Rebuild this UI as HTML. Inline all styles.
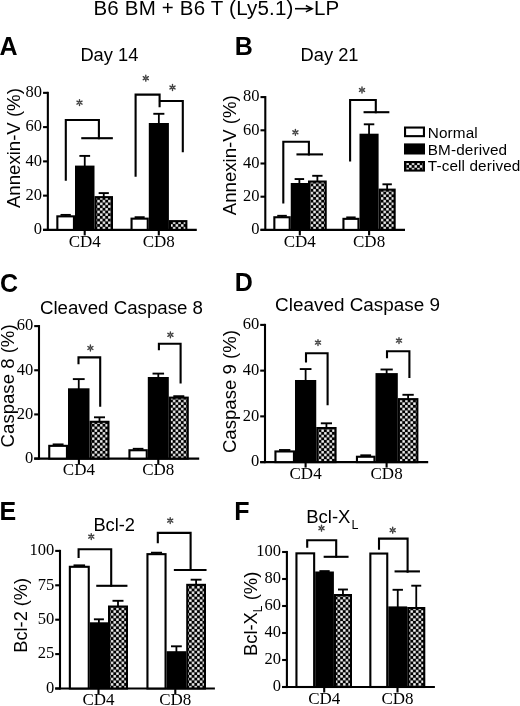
<!DOCTYPE html>
<html><head><meta charset="utf-8"><style>
html,body{margin:0;padding:0;background:#fff;overflow:hidden;}
svg{display:block;filter:grayscale(1) blur(0.25px);}
</style></head><body>
<svg width="520" height="706" viewBox="0 0 520 706">
<defs>
<pattern id="chk" x="0" y="0" width="5.4" height="5.4" patternUnits="userSpaceOnUse">
<rect x="0" y="0" width="5.4" height="5.4" fill="#000"/>
<rect x="0.15" y="0.15" width="2.4" height="2.4" fill="#fff"/>
<rect x="2.85" y="2.85" width="2.4" height="2.4" fill="#fff"/>
</pattern>
<pattern id="chk2" x="406.3" y="162.4" width="5.4" height="5.4" patternUnits="userSpaceOnUse">
<rect x="0" y="0" width="5.4" height="5.4" fill="#000"/>
<rect x="0.15" y="0.15" width="2.4" height="2.4" fill="#fff"/>
<rect x="2.85" y="2.85" width="2.4" height="2.4" fill="#fff"/>
</pattern>
</defs>
<rect width="520" height="706" fill="#fff"/>
<text x="93.40" y="15.00" font-family='"Liberation Sans", sans-serif' font-size="20.5" letter-spacing="0.2">B6 BM + B6 T (Ly5.1)</text>
<line x1="295.00" y1="8.70" x2="311.60" y2="8.70" stroke="#000" stroke-width="1.6"/>
<polyline points="306.60,5.90 312.20,8.70 306.60,11.50" fill="none" stroke="#000" stroke-width="1.6" stroke-linejoin="miter" stroke-linecap="square"/>
<text x="314.10" y="15.00" font-family='"Liberation Sans", sans-serif' font-size="20.5">LP</text>
<text x="-0.60" y="55.40" font-family='"Liberation Sans", sans-serif' font-size="25" font-weight="bold">A</text>
<text x="234.80" y="55.00" font-family='"Liberation Sans", sans-serif' font-size="25" font-weight="bold">B</text>
<text x="0.00" y="291.80" font-family='"Liberation Sans", sans-serif' font-size="25" font-weight="bold">C</text>
<text x="234.80" y="291.30" font-family='"Liberation Sans", sans-serif' font-size="25" font-weight="bold">D</text>
<text x="-0.60" y="520.00" font-family='"Liberation Sans", sans-serif' font-size="25" font-weight="bold">E</text>
<text x="234.30" y="519.50" font-family='"Liberation Sans", sans-serif' font-size="25" font-weight="bold">F</text>
<text x="80.40" y="61.00" font-family='"Liberation Sans", sans-serif' font-size="18.3">Day 14</text>
<text x="300.60" y="60.80" font-family='"Liberation Sans", sans-serif' font-size="18.3">Day 21</text>
<text x="39.90" y="313.80" font-family='"Liberation Sans", sans-serif' font-size="18.7">Cleaved Caspase 8</text>
<text x="275.10" y="310.80" font-family='"Liberation Sans", sans-serif' font-size="18.9">Cleaved Caspase 9</text>
<text x="93.40" y="531.00" font-family='"Liberation Sans", sans-serif' font-size="18.3">Bcl-2</text>
<text x="306.2" y="523.3" font-family='"Liberation Sans", sans-serif' font-size="18.5">Bcl-X<tspan font-size="12.5" dx="1.2" dy="5.2">L</tspan></text>
<text x="0" y="0" transform="translate(19.8,148.1) rotate(-90)" font-family='"Liberation Sans", sans-serif' font-size="18.6" text-anchor="middle">Annexin-V (%)</text>
<text x="0" y="0" transform="translate(236,155.2) rotate(-90)" font-family='"Liberation Sans", sans-serif' font-size="18.6" text-anchor="middle">Annexin-V (%)</text>
<text x="0" y="0" transform="translate(14.2,385.9) rotate(-90)" font-family='"Liberation Sans", sans-serif' font-size="18.6" text-anchor="middle">Caspase 8 (%)</text>
<text x="0" y="0" transform="translate(236.2,391.6) rotate(-90)" font-family='"Liberation Sans", sans-serif' font-size="18.6" text-anchor="middle">Caspase 9 (%)</text>
<text x="0" y="0" transform="translate(27.0,615.3) rotate(-90)" font-family='"Liberation Sans", sans-serif' font-size="18.2" text-anchor="middle">Bcl-2 (%)</text>
<text x="0" y="0" transform="translate(257.3,613.9) rotate(-90)" font-family='"Liberation Sans", sans-serif' font-size="18.4" text-anchor="middle">Bcl-X<tspan font-size="12" dy="4.5">L</tspan><tspan dy="-4.5"> (%)</tspan></text>
<line x1="47.85" y1="91.80" x2="47.85" y2="230.95" stroke="#000" stroke-width="2.1"/>
<line x1="43.05" y1="229.90" x2="47.85" y2="229.90" stroke="#000" stroke-width="2.1"/>
<text x="42.05" y="234.20" font-family='"Liberation Serif", serif' font-size="16.5" text-anchor="end">0</text>
<line x1="43.05" y1="195.64" x2="47.85" y2="195.64" stroke="#000" stroke-width="2.1"/>
<text x="42.05" y="199.94" font-family='"Liberation Serif", serif' font-size="16.5" text-anchor="end">20</text>
<line x1="43.05" y1="161.38" x2="47.85" y2="161.38" stroke="#000" stroke-width="2.1"/>
<text x="42.05" y="165.68" font-family='"Liberation Serif", serif' font-size="16.5" text-anchor="end">40</text>
<line x1="43.05" y1="127.11" x2="47.85" y2="127.11" stroke="#000" stroke-width="2.1"/>
<text x="42.05" y="131.41" font-family='"Liberation Serif", serif' font-size="16.5" text-anchor="end">60</text>
<line x1="43.05" y1="92.85" x2="47.85" y2="92.85" stroke="#000" stroke-width="2.1"/>
<text x="42.05" y="97.15" font-family='"Liberation Serif", serif' font-size="16.5" text-anchor="end">80</text>
<line x1="43.05" y1="229.90" x2="196.80" y2="229.90" stroke="#000" stroke-width="2.1"/>
<rect x="57.35" y="216.35" width="16.60" height="13.55" fill="#fff" stroke="#000" stroke-width="2.1"/>
<rect x="76.05" y="166.65" width="17.40" height="63.25" fill="#000" stroke="#000" stroke-width="2.1"/>
<rect x="95.55" y="197.15" width="16.40" height="32.75" fill="url(#chk)" stroke="#000" stroke-width="2.1"/>
<line x1="65.65" y1="216.30" x2="65.65" y2="214.90" stroke="#000" stroke-width="1.8"/>
<line x1="60.51" y1="214.90" x2="70.79" y2="214.90" stroke="#000" stroke-width="1.9"/>
<line x1="84.75" y1="166.60" x2="84.75" y2="155.90" stroke="#000" stroke-width="1.8"/>
<line x1="79.39" y1="155.90" x2="90.11" y2="155.90" stroke="#000" stroke-width="1.9"/>
<line x1="103.75" y1="197.10" x2="103.75" y2="193.10" stroke="#000" stroke-width="1.8"/>
<line x1="98.66" y1="193.10" x2="108.84" y2="193.10" stroke="#000" stroke-width="1.9"/>
<line x1="84.70" y1="229.90" x2="84.70" y2="235.40" stroke="#000" stroke-width="2.1"/>
<text x="84.70" y="246.70" font-family='"Liberation Serif", serif' font-size="17" text-anchor="middle">CD4</text>
<rect x="131.55" y="218.65" width="16.20" height="11.25" fill="#fff" stroke="#000" stroke-width="2.1"/>
<rect x="149.85" y="124.05" width="18.00" height="105.85" fill="#000" stroke="#000" stroke-width="2.1"/>
<rect x="169.95" y="221.15" width="16.40" height="8.75" fill="url(#chk)" stroke="#000" stroke-width="2.1"/>
<line x1="139.65" y1="218.60" x2="139.65" y2="217.20" stroke="#000" stroke-width="1.8"/>
<line x1="134.62" y1="217.20" x2="144.68" y2="217.20" stroke="#000" stroke-width="1.9"/>
<line x1="158.85" y1="124.00" x2="158.85" y2="113.80" stroke="#000" stroke-width="1.8"/>
<line x1="153.32" y1="113.80" x2="164.38" y2="113.80" stroke="#000" stroke-width="1.9"/>
<line x1="158.80" y1="229.90" x2="158.80" y2="235.40" stroke="#000" stroke-width="2.1"/>
<text x="158.80" y="246.70" font-family='"Liberation Serif", serif' font-size="17" text-anchor="middle">CD8</text>
<polyline points="65.80,179.60 65.80,120.00 98.90,120.00 98.90,138.20" fill="none" stroke="#000" stroke-width="2.1" stroke-linejoin="miter" stroke-linecap="square"/>
<polyline points="82.30,138.20 111.80,138.20" fill="none" stroke="#000" stroke-width="2.1" stroke-linejoin="miter" stroke-linecap="square"/>
<polyline points="135.60,175.70 135.60,94.60 159.60,94.60 159.60,106.20" fill="none" stroke="#000" stroke-width="2.1" stroke-linejoin="miter" stroke-linecap="square"/>
<polyline points="160.00,101.00 182.80,101.00 182.80,151.20" fill="none" stroke="#000" stroke-width="2.1" stroke-linejoin="miter" stroke-linecap="square"/>
<path d="M79.50,103.90L79.50,105.55M80.63,103.25L82.05,104.07M78.37,103.25L76.95,104.07M79.50,101.30L79.50,99.65M78.37,101.95L76.95,101.12M80.63,101.95L82.05,101.12" stroke="#000" stroke-width="1.4" stroke-linecap="round" fill="none" opacity="0.75"/>
<circle cx="79.50" cy="102.60" r="1.0" fill="#000" opacity="0.4"/>
<path d="M145.80,79.50L145.80,81.15M146.93,78.85L148.35,79.67M144.67,78.85L143.25,79.67M145.80,76.90L145.80,75.25M144.67,77.55L143.25,76.72M146.93,77.55L148.35,76.72" stroke="#000" stroke-width="1.4" stroke-linecap="round" fill="none" opacity="0.75"/>
<circle cx="145.80" cy="78.20" r="1.0" fill="#000" opacity="0.4"/>
<path d="M172.50,88.80L172.50,90.45M173.63,88.15L175.05,88.97M171.37,88.15L169.95,88.97M172.50,86.20L172.50,84.55M171.37,86.85L169.95,86.03M173.63,86.85L175.05,86.03" stroke="#000" stroke-width="1.4" stroke-linecap="round" fill="none" opacity="0.75"/>
<circle cx="172.50" cy="87.50" r="1.0" fill="#000" opacity="0.4"/>
<line x1="265.30" y1="96.05" x2="265.30" y2="230.95" stroke="#000" stroke-width="2.1"/>
<line x1="260.50" y1="229.90" x2="265.30" y2="229.90" stroke="#000" stroke-width="2.1"/>
<text x="259.50" y="234.20" font-family='"Liberation Serif", serif' font-size="16.5" text-anchor="end">0</text>
<line x1="260.50" y1="196.70" x2="265.30" y2="196.70" stroke="#000" stroke-width="2.1"/>
<text x="259.50" y="201.00" font-family='"Liberation Serif", serif' font-size="16.5" text-anchor="end">20</text>
<line x1="260.50" y1="163.50" x2="265.30" y2="163.50" stroke="#000" stroke-width="2.1"/>
<text x="259.50" y="167.80" font-family='"Liberation Serif", serif' font-size="16.5" text-anchor="end">40</text>
<line x1="260.50" y1="130.30" x2="265.30" y2="130.30" stroke="#000" stroke-width="2.1"/>
<text x="259.50" y="134.60" font-family='"Liberation Serif", serif' font-size="16.5" text-anchor="end">60</text>
<line x1="260.50" y1="97.10" x2="265.30" y2="97.10" stroke="#000" stroke-width="2.1"/>
<text x="259.50" y="101.40" font-family='"Liberation Serif", serif' font-size="16.5" text-anchor="end">80</text>
<line x1="260.50" y1="229.90" x2="405.00" y2="229.90" stroke="#000" stroke-width="2.1"/>
<rect x="274.35" y="217.25" width="15.35" height="12.65" fill="#fff" stroke="#000" stroke-width="2.1"/>
<rect x="291.80" y="184.05" width="15.15" height="45.85" fill="#000" stroke="#000" stroke-width="2.1"/>
<rect x="309.05" y="181.55" width="16.65" height="48.35" fill="url(#chk)" stroke="#000" stroke-width="2.1"/>
<line x1="282.02" y1="217.20" x2="282.02" y2="215.80" stroke="#000" stroke-width="1.8"/>
<line x1="277.23" y1="215.80" x2="286.82" y2="215.80" stroke="#000" stroke-width="1.9"/>
<line x1="299.38" y1="184.00" x2="299.38" y2="179.05" stroke="#000" stroke-width="1.8"/>
<line x1="294.63" y1="179.05" x2="304.12" y2="179.05" stroke="#000" stroke-width="1.9"/>
<line x1="317.38" y1="181.50" x2="317.38" y2="175.80" stroke="#000" stroke-width="1.8"/>
<line x1="312.22" y1="175.80" x2="322.53" y2="175.80" stroke="#000" stroke-width="1.9"/>
<line x1="299.80" y1="229.90" x2="299.80" y2="235.40" stroke="#000" stroke-width="2.1"/>
<text x="299.80" y="246.70" font-family='"Liberation Serif", serif' font-size="17" text-anchor="middle">CD4</text>
<rect x="343.45" y="218.85" width="15.00" height="11.05" fill="#fff" stroke="#000" stroke-width="2.1"/>
<rect x="360.55" y="134.75" width="17.00" height="95.15" fill="#000" stroke="#000" stroke-width="2.1"/>
<rect x="379.65" y="189.65" width="15.00" height="40.25" fill="url(#chk)" stroke="#000" stroke-width="2.1"/>
<line x1="350.95" y1="218.80" x2="350.95" y2="217.40" stroke="#000" stroke-width="1.8"/>
<line x1="346.25" y1="217.40" x2="355.65" y2="217.40" stroke="#000" stroke-width="1.9"/>
<line x1="369.05" y1="134.70" x2="369.05" y2="124.30" stroke="#000" stroke-width="1.8"/>
<line x1="363.80" y1="124.30" x2="374.30" y2="124.30" stroke="#000" stroke-width="1.9"/>
<line x1="387.15" y1="189.60" x2="387.15" y2="184.30" stroke="#000" stroke-width="1.8"/>
<line x1="382.45" y1="184.30" x2="391.85" y2="184.30" stroke="#000" stroke-width="1.9"/>
<line x1="369.10" y1="229.90" x2="369.10" y2="235.40" stroke="#000" stroke-width="2.1"/>
<text x="369.10" y="246.70" font-family='"Liberation Serif", serif' font-size="17" text-anchor="middle">CD8</text>
<polyline points="283.30,202.50 283.30,141.80 308.90,141.80 308.90,154.40" fill="none" stroke="#000" stroke-width="2.1" stroke-linejoin="miter" stroke-linecap="square"/>
<polyline points="297.50,154.40 322.00,154.40" fill="none" stroke="#000" stroke-width="2.1" stroke-linejoin="miter" stroke-linecap="square"/>
<polyline points="350.10,160.50 350.10,100.00 375.80,100.00 375.80,112.20" fill="none" stroke="#000" stroke-width="2.1" stroke-linejoin="miter" stroke-linecap="square"/>
<polyline points="364.60,112.20 388.30,112.20" fill="none" stroke="#000" stroke-width="2.1" stroke-linejoin="miter" stroke-linecap="square"/>
<path d="M295.40,133.60L295.40,135.25M296.53,132.95L297.95,133.77M294.27,132.95L292.85,133.77M295.40,131.00L295.40,129.35M294.27,131.65L292.85,130.82M296.53,131.65L297.95,130.82" stroke="#000" stroke-width="1.4" stroke-linecap="round" fill="none" opacity="0.75"/>
<circle cx="295.40" cy="132.30" r="1.0" fill="#000" opacity="0.4"/>
<path d="M362.00,91.30L362.00,92.95M363.13,90.65L364.55,91.47M360.87,90.65L359.45,91.47M362.00,88.70L362.00,87.05M360.87,89.35L359.45,88.53M363.13,89.35L364.55,88.53" stroke="#000" stroke-width="1.4" stroke-linecap="round" fill="none" opacity="0.75"/>
<circle cx="362.00" cy="90.00" r="1.0" fill="#000" opacity="0.4"/>
<line x1="39.00" y1="325.05" x2="39.00" y2="459.65" stroke="#000" stroke-width="2.1"/>
<line x1="34.20" y1="458.60" x2="39.00" y2="458.60" stroke="#000" stroke-width="2.1"/>
<text x="33.20" y="462.90" font-family='"Liberation Serif", serif' font-size="16.5" text-anchor="end">0</text>
<line x1="34.20" y1="414.43" x2="39.00" y2="414.43" stroke="#000" stroke-width="2.1"/>
<text x="33.20" y="418.73" font-family='"Liberation Serif", serif' font-size="16.5" text-anchor="end">20</text>
<line x1="34.20" y1="370.27" x2="39.00" y2="370.27" stroke="#000" stroke-width="2.1"/>
<text x="33.20" y="374.57" font-family='"Liberation Serif", serif' font-size="16.5" text-anchor="end">40</text>
<line x1="34.20" y1="326.10" x2="39.00" y2="326.10" stroke="#000" stroke-width="2.1"/>
<text x="33.20" y="330.40" font-family='"Liberation Serif", serif' font-size="16.5" text-anchor="end">60</text>
<line x1="34.20" y1="458.60" x2="199.20" y2="458.60" stroke="#000" stroke-width="2.1"/>
<rect x="49.25" y="445.85" width="17.70" height="12.75" fill="#fff" stroke="#000" stroke-width="2.1"/>
<rect x="69.05" y="389.35" width="19.40" height="69.25" fill="#000" stroke="#000" stroke-width="2.1"/>
<rect x="90.55" y="421.80" width="17.90" height="36.80" fill="url(#chk)" stroke="#000" stroke-width="2.1"/>
<line x1="58.10" y1="445.80" x2="58.10" y2="444.40" stroke="#000" stroke-width="1.8"/>
<line x1="52.66" y1="444.40" x2="63.55" y2="444.40" stroke="#000" stroke-width="1.9"/>
<line x1="78.75" y1="389.30" x2="78.75" y2="379.10" stroke="#000" stroke-width="1.8"/>
<line x1="72.84" y1="379.10" x2="84.66" y2="379.10" stroke="#000" stroke-width="1.9"/>
<line x1="99.50" y1="421.75" x2="99.50" y2="417.30" stroke="#000" stroke-width="1.8"/>
<line x1="94.00" y1="417.30" x2="105.00" y2="417.30" stroke="#000" stroke-width="1.9"/>
<line x1="78.90" y1="458.60" x2="78.90" y2="464.10" stroke="#000" stroke-width="2.1"/>
<text x="78.90" y="475.40" font-family='"Liberation Serif", serif' font-size="17" text-anchor="middle">CD4</text>
<rect x="129.45" y="450.25" width="17.30" height="8.35" fill="#fff" stroke="#000" stroke-width="2.1"/>
<rect x="148.85" y="378.05" width="18.90" height="80.55" fill="#000" stroke="#000" stroke-width="2.1"/>
<rect x="169.85" y="397.65" width="17.90" height="60.95" fill="url(#chk)" stroke="#000" stroke-width="2.1"/>
<line x1="138.10" y1="450.20" x2="138.10" y2="448.80" stroke="#000" stroke-width="1.8"/>
<line x1="132.77" y1="448.80" x2="143.44" y2="448.80" stroke="#000" stroke-width="1.9"/>
<line x1="158.30" y1="378.00" x2="158.30" y2="373.60" stroke="#000" stroke-width="1.8"/>
<line x1="152.53" y1="373.60" x2="164.08" y2="373.60" stroke="#000" stroke-width="1.9"/>
<line x1="178.80" y1="397.60" x2="178.80" y2="396.20" stroke="#000" stroke-width="1.8"/>
<line x1="173.30" y1="396.20" x2="184.30" y2="396.20" stroke="#000" stroke-width="1.9"/>
<line x1="158.30" y1="458.60" x2="158.30" y2="464.10" stroke="#000" stroke-width="2.1"/>
<text x="158.30" y="475.40" font-family='"Liberation Serif", serif' font-size="17" text-anchor="middle">CD8</text>
<polyline points="78.50,363.30 78.50,357.40 100.20,357.40 100.20,405.80" fill="none" stroke="#000" stroke-width="2.1" stroke-linejoin="miter" stroke-linecap="square"/>
<polyline points="158.90,349.30 158.90,343.70 180.60,343.70 180.60,382.50" fill="none" stroke="#000" stroke-width="2.1" stroke-linejoin="miter" stroke-linecap="square"/>
<path d="M90.40,349.30L90.40,350.95M91.53,348.65L92.95,349.48M89.27,348.65L87.85,349.48M90.40,346.70L90.40,345.05M89.27,347.35L87.85,346.52M91.53,347.35L92.95,346.52" stroke="#000" stroke-width="1.4" stroke-linecap="round" fill="none" opacity="0.75"/>
<circle cx="90.40" cy="348.00" r="1.0" fill="#000" opacity="0.4"/>
<path d="M170.40,336.10L170.40,337.75M171.53,335.45L172.95,336.28M169.27,335.45L167.85,336.28M170.40,333.50L170.40,331.85M169.27,334.15L167.85,333.32M171.53,334.15L172.95,333.32" stroke="#000" stroke-width="1.4" stroke-linecap="round" fill="none" opacity="0.75"/>
<circle cx="170.40" cy="334.80" r="1.0" fill="#000" opacity="0.4"/>
<line x1="265.00" y1="323.85" x2="265.00" y2="463.15" stroke="#000" stroke-width="2.1"/>
<line x1="260.20" y1="462.10" x2="265.00" y2="462.10" stroke="#000" stroke-width="2.1"/>
<text x="259.20" y="466.40" font-family='"Liberation Serif", serif' font-size="16.5" text-anchor="end">0</text>
<line x1="260.20" y1="416.37" x2="265.00" y2="416.37" stroke="#000" stroke-width="2.1"/>
<text x="259.20" y="420.67" font-family='"Liberation Serif", serif' font-size="16.5" text-anchor="end">20</text>
<line x1="260.20" y1="370.63" x2="265.00" y2="370.63" stroke="#000" stroke-width="2.1"/>
<text x="259.20" y="374.93" font-family='"Liberation Serif", serif' font-size="16.5" text-anchor="end">40</text>
<line x1="260.20" y1="324.90" x2="265.00" y2="324.90" stroke="#000" stroke-width="2.1"/>
<text x="259.20" y="329.20" font-family='"Liberation Serif", serif' font-size="16.5" text-anchor="end">60</text>
<line x1="260.20" y1="462.10" x2="428.20" y2="462.10" stroke="#000" stroke-width="2.1"/>
<rect x="275.45" y="451.45" width="18.50" height="10.65" fill="#fff" stroke="#000" stroke-width="2.1"/>
<rect x="296.05" y="381.05" width="19.15" height="81.05" fill="#000" stroke="#000" stroke-width="2.1"/>
<rect x="317.30" y="428.05" width="18.25" height="34.05" fill="url(#chk)" stroke="#000" stroke-width="2.1"/>
<line x1="284.70" y1="451.40" x2="284.70" y2="450.00" stroke="#000" stroke-width="1.8"/>
<line x1="279.03" y1="450.00" x2="290.37" y2="450.00" stroke="#000" stroke-width="1.9"/>
<line x1="305.62" y1="381.00" x2="305.62" y2="369.05" stroke="#000" stroke-width="1.8"/>
<line x1="299.78" y1="369.05" x2="311.47" y2="369.05" stroke="#000" stroke-width="1.9"/>
<line x1="326.43" y1="428.00" x2="326.43" y2="423.30" stroke="#000" stroke-width="1.8"/>
<line x1="320.83" y1="423.30" x2="332.02" y2="423.30" stroke="#000" stroke-width="1.9"/>
<line x1="305.60" y1="462.10" x2="305.60" y2="467.60" stroke="#000" stroke-width="2.1"/>
<text x="305.60" y="478.90" font-family='"Liberation Serif", serif' font-size="17" text-anchor="middle">CD4</text>
<rect x="356.95" y="456.75" width="17.50" height="5.35" fill="#fff" stroke="#000" stroke-width="2.1"/>
<rect x="376.55" y="374.15" width="20.20" height="87.95" fill="#000" stroke="#000" stroke-width="2.1"/>
<rect x="398.85" y="399.15" width="18.50" height="62.95" fill="url(#chk)" stroke="#000" stroke-width="2.1"/>
<line x1="365.70" y1="456.70" x2="365.70" y2="455.30" stroke="#000" stroke-width="1.8"/>
<line x1="360.31" y1="455.30" x2="371.09" y2="455.30" stroke="#000" stroke-width="1.9"/>
<line x1="386.65" y1="374.10" x2="386.65" y2="369.50" stroke="#000" stroke-width="1.8"/>
<line x1="380.52" y1="369.50" x2="392.78" y2="369.50" stroke="#000" stroke-width="1.9"/>
<line x1="408.10" y1="399.10" x2="408.10" y2="394.80" stroke="#000" stroke-width="1.8"/>
<line x1="402.44" y1="394.80" x2="413.76" y2="394.80" stroke="#000" stroke-width="1.9"/>
<line x1="386.60" y1="462.10" x2="386.60" y2="467.60" stroke="#000" stroke-width="2.1"/>
<text x="386.60" y="478.90" font-family='"Liberation Serif", serif' font-size="17" text-anchor="middle">CD8</text>
<polyline points="306.00,361.50 306.00,353.30 327.60,353.30 327.60,404.20" fill="none" stroke="#000" stroke-width="2.1" stroke-linejoin="miter" stroke-linecap="square"/>
<polyline points="387.00,357.30 387.00,351.20 409.40,351.20 409.40,377.00" fill="none" stroke="#000" stroke-width="2.1" stroke-linejoin="miter" stroke-linecap="square"/>
<path d="M318.00,343.90L318.00,345.55M319.13,343.25L320.55,344.08M316.87,343.25L315.45,344.08M318.00,341.30L318.00,339.65M316.87,341.95L315.45,341.12M319.13,341.95L320.55,341.12" stroke="#000" stroke-width="1.4" stroke-linecap="round" fill="none" opacity="0.75"/>
<circle cx="318.00" cy="342.60" r="1.0" fill="#000" opacity="0.4"/>
<path d="M399.00,341.90L399.00,343.55M400.13,341.25L401.55,342.08M397.87,341.25L396.45,342.08M399.00,339.30L399.00,337.65M397.87,339.95L396.45,339.12M400.13,339.95L401.55,339.12" stroke="#000" stroke-width="1.4" stroke-linecap="round" fill="none" opacity="0.75"/>
<circle cx="399.00" cy="340.60" r="1.0" fill="#000" opacity="0.4"/>
<line x1="60.00" y1="549.85" x2="60.00" y2="689.55" stroke="#000" stroke-width="2.1"/>
<line x1="55.20" y1="688.50" x2="60.00" y2="688.50" stroke="#000" stroke-width="2.1"/>
<text x="54.20" y="692.80" font-family='"Liberation Serif", serif' font-size="16.5" text-anchor="end">0</text>
<line x1="55.20" y1="654.10" x2="60.00" y2="654.10" stroke="#000" stroke-width="2.1"/>
<text x="54.20" y="658.40" font-family='"Liberation Serif", serif' font-size="16.5" text-anchor="end">25</text>
<line x1="55.20" y1="619.70" x2="60.00" y2="619.70" stroke="#000" stroke-width="2.1"/>
<text x="54.20" y="624.00" font-family='"Liberation Serif", serif' font-size="16.5" text-anchor="end">50</text>
<line x1="55.20" y1="585.30" x2="60.00" y2="585.30" stroke="#000" stroke-width="2.1"/>
<text x="54.20" y="589.60" font-family='"Liberation Serif", serif' font-size="16.5" text-anchor="end">75</text>
<line x1="55.20" y1="550.90" x2="60.00" y2="550.90" stroke="#000" stroke-width="2.1"/>
<text x="54.20" y="555.20" font-family='"Liberation Serif", serif' font-size="16.5" text-anchor="end">100</text>
<line x1="55.20" y1="688.50" x2="214.90" y2="688.50" stroke="#000" stroke-width="2.1"/>
<rect x="69.85" y="566.80" width="18.90" height="121.70" fill="#fff" stroke="#000" stroke-width="2.1"/>
<rect x="90.85" y="623.35" width="16.10" height="65.15" fill="#000" stroke="#000" stroke-width="2.1"/>
<rect x="109.05" y="606.55" width="17.90" height="81.95" fill="url(#chk)" stroke="#000" stroke-width="2.1"/>
<line x1="79.30" y1="566.75" x2="79.30" y2="565.35" stroke="#000" stroke-width="1.8"/>
<line x1="73.52" y1="565.35" x2="85.08" y2="565.35" stroke="#000" stroke-width="1.9"/>
<line x1="98.90" y1="623.30" x2="98.90" y2="619.30" stroke="#000" stroke-width="1.8"/>
<line x1="93.90" y1="619.30" x2="103.91" y2="619.30" stroke="#000" stroke-width="1.9"/>
<line x1="118.00" y1="606.50" x2="118.00" y2="600.80" stroke="#000" stroke-width="1.8"/>
<line x1="112.50" y1="600.80" x2="123.50" y2="600.80" stroke="#000" stroke-width="1.9"/>
<line x1="98.50" y1="688.50" x2="98.50" y2="694.00" stroke="#000" stroke-width="2.1"/>
<text x="98.50" y="705.30" font-family='"Liberation Serif", serif' font-size="17" text-anchor="middle">CD4</text>
<rect x="147.45" y="554.15" width="18.10" height="134.35" fill="#fff" stroke="#000" stroke-width="2.1"/>
<rect x="167.65" y="652.25" width="17.50" height="36.25" fill="#000" stroke="#000" stroke-width="2.1"/>
<rect x="187.25" y="584.85" width="17.70" height="103.65" fill="url(#chk)" stroke="#000" stroke-width="2.1"/>
<line x1="156.50" y1="554.10" x2="156.50" y2="552.70" stroke="#000" stroke-width="1.8"/>
<line x1="150.94" y1="552.70" x2="162.06" y2="552.70" stroke="#000" stroke-width="1.9"/>
<line x1="176.40" y1="652.20" x2="176.40" y2="646.30" stroke="#000" stroke-width="1.8"/>
<line x1="171.01" y1="646.30" x2="181.79" y2="646.30" stroke="#000" stroke-width="1.9"/>
<line x1="196.10" y1="584.80" x2="196.10" y2="579.70" stroke="#000" stroke-width="1.8"/>
<line x1="190.66" y1="579.70" x2="201.54" y2="579.70" stroke="#000" stroke-width="1.9"/>
<line x1="175.30" y1="688.50" x2="175.30" y2="694.00" stroke="#000" stroke-width="2.1"/>
<text x="175.30" y="705.30" font-family='"Liberation Serif", serif' font-size="17" text-anchor="middle">CD8</text>
<polyline points="78.60,557.00 78.60,549.20 111.20,549.20 111.20,585.80" fill="none" stroke="#000" stroke-width="2.1" stroke-linejoin="miter" stroke-linecap="square"/>
<polyline points="97.30,585.80 126.40,585.80" fill="none" stroke="#000" stroke-width="2.1" stroke-linejoin="miter" stroke-linecap="square"/>
<polyline points="157.80,542.30 157.80,532.90 190.60,532.90 190.60,570.00" fill="none" stroke="#000" stroke-width="2.1" stroke-linejoin="miter" stroke-linecap="square"/>
<polyline points="174.90,570.00 205.50,570.00" fill="none" stroke="#000" stroke-width="2.1" stroke-linejoin="miter" stroke-linecap="square"/>
<path d="M91.25,537.90L91.25,539.55M92.38,537.25L93.80,538.08M90.12,537.25L88.70,538.08M91.25,535.30L91.25,533.65M90.12,535.95L88.70,535.12M92.38,535.95L93.80,535.12" stroke="#000" stroke-width="1.4" stroke-linecap="round" fill="none" opacity="0.75"/>
<circle cx="91.25" cy="536.60" r="1.0" fill="#000" opacity="0.4"/>
<path d="M170.20,521.90L170.20,523.55M171.33,521.25L172.75,522.08M169.07,521.25L167.65,522.08M170.20,519.30L170.20,517.65M169.07,519.95L167.65,519.12M171.33,519.95L172.75,519.12" stroke="#000" stroke-width="1.4" stroke-linecap="round" fill="none" opacity="0.75"/>
<circle cx="170.20" cy="520.60" r="1.0" fill="#000" opacity="0.4"/>
<line x1="286.90" y1="550.95" x2="286.90" y2="688.05" stroke="#000" stroke-width="2.1"/>
<line x1="282.10" y1="687.00" x2="286.90" y2="687.00" stroke="#000" stroke-width="2.1"/>
<text x="281.10" y="691.30" font-family='"Liberation Serif", serif' font-size="16.5" text-anchor="end">0</text>
<line x1="282.10" y1="660.00" x2="286.90" y2="660.00" stroke="#000" stroke-width="2.1"/>
<text x="281.10" y="664.30" font-family='"Liberation Serif", serif' font-size="16.5" text-anchor="end">20</text>
<line x1="282.10" y1="633.00" x2="286.90" y2="633.00" stroke="#000" stroke-width="2.1"/>
<text x="281.10" y="637.30" font-family='"Liberation Serif", serif' font-size="16.5" text-anchor="end">40</text>
<line x1="282.10" y1="606.00" x2="286.90" y2="606.00" stroke="#000" stroke-width="2.1"/>
<text x="281.10" y="610.30" font-family='"Liberation Serif", serif' font-size="16.5" text-anchor="end">60</text>
<line x1="282.10" y1="579.00" x2="286.90" y2="579.00" stroke="#000" stroke-width="2.1"/>
<text x="281.10" y="583.30" font-family='"Liberation Serif", serif' font-size="16.5" text-anchor="end">80</text>
<line x1="282.10" y1="552.00" x2="286.90" y2="552.00" stroke="#000" stroke-width="2.1"/>
<text x="281.10" y="556.30" font-family='"Liberation Serif", serif' font-size="16.5" text-anchor="end">100</text>
<line x1="282.10" y1="687.00" x2="434.90" y2="687.00" stroke="#000" stroke-width="2.1"/>
<rect x="296.45" y="553.35" width="17.70" height="133.65" fill="#fff" stroke="#000" stroke-width="2.1"/>
<rect x="316.25" y="572.55" width="16.60" height="114.45" fill="#000" stroke="#000" stroke-width="2.1"/>
<rect x="334.95" y="595.05" width="16.00" height="91.95" fill="url(#chk)" stroke="#000" stroke-width="2.1"/>
<line x1="324.55" y1="572.50" x2="324.55" y2="571.10" stroke="#000" stroke-width="1.8"/>
<line x1="319.41" y1="571.10" x2="329.69" y2="571.10" stroke="#000" stroke-width="1.9"/>
<line x1="342.95" y1="595.00" x2="342.95" y2="589.50" stroke="#000" stroke-width="1.8"/>
<line x1="337.97" y1="589.50" x2="347.93" y2="589.50" stroke="#000" stroke-width="1.9"/>
<line x1="324.20" y1="687.00" x2="324.20" y2="692.50" stroke="#000" stroke-width="2.1"/>
<text x="324.20" y="703.80" font-family='"Liberation Serif", serif' font-size="17" text-anchor="middle">CD4</text>
<rect x="370.35" y="553.55" width="16.90" height="133.45" fill="#fff" stroke="#000" stroke-width="2.1"/>
<rect x="389.35" y="607.45" width="16.80" height="79.55" fill="#000" stroke="#000" stroke-width="2.1"/>
<rect x="408.25" y="608.05" width="16.00" height="78.95" fill="url(#chk)" stroke="#000" stroke-width="2.1"/>
<line x1="397.75" y1="607.40" x2="397.75" y2="589.80" stroke="#000" stroke-width="1.8"/>
<line x1="392.55" y1="589.80" x2="402.95" y2="589.80" stroke="#000" stroke-width="1.9"/>
<line x1="416.25" y1="608.00" x2="416.25" y2="585.70" stroke="#000" stroke-width="1.8"/>
<line x1="411.27" y1="585.70" x2="421.23" y2="585.70" stroke="#000" stroke-width="1.9"/>
<line x1="397.50" y1="687.00" x2="397.50" y2="692.50" stroke="#000" stroke-width="2.1"/>
<text x="397.50" y="703.80" font-family='"Liberation Serif", serif' font-size="17" text-anchor="middle">CD8</text>
<polyline points="307.20,546.70 307.20,540.20 336.20,540.20 336.20,556.80" fill="none" stroke="#000" stroke-width="2.1" stroke-linejoin="miter" stroke-linecap="square"/>
<polyline points="324.70,556.80 347.50,556.80" fill="none" stroke="#000" stroke-width="2.1" stroke-linejoin="miter" stroke-linecap="square"/>
<polyline points="379.00,548.80 379.00,538.60 407.60,538.60 407.60,571.60" fill="none" stroke="#000" stroke-width="2.1" stroke-linejoin="miter" stroke-linecap="square"/>
<polyline points="395.60,571.40 418.90,571.40" fill="none" stroke="#000" stroke-width="2.1" stroke-linejoin="miter" stroke-linecap="square"/>
<path d="M321.50,529.50L321.50,531.15M322.63,528.85L324.05,529.68M320.37,528.85L318.95,529.68M321.50,526.90L321.50,525.25M320.37,527.55L318.95,526.73M322.63,527.55L324.05,526.73" stroke="#000" stroke-width="1.4" stroke-linecap="round" fill="none" opacity="0.75"/>
<circle cx="321.50" cy="528.20" r="1.0" fill="#000" opacity="0.4"/>
<path d="M392.70,531.50L392.70,533.15M393.83,530.85L395.25,531.68M391.57,530.85L390.15,531.68M392.70,528.90L392.70,527.25M391.57,529.55L390.15,528.73M393.83,529.55L395.25,528.73" stroke="#000" stroke-width="1.4" stroke-linecap="round" fill="none" opacity="0.75"/>
<circle cx="392.70" cy="530.20" r="1.0" fill="#000" opacity="0.4"/>
<rect x="405.05" y="127.55" width="18.9" height="8.60" fill="#fff" stroke="#000" stroke-width="2.1"/>
<text x="427.80" y="137.70" font-family='"Liberation Sans", sans-serif' font-size="15.3" letter-spacing="0.12">Normal</text>
<rect x="405.05" y="144.45000000000002" width="18.9" height="9.00" fill="#000" stroke="#000" stroke-width="2.1"/>
<text x="427.80" y="154.60" font-family='"Liberation Sans", sans-serif' font-size="15.3" letter-spacing="0.12">BM-derived</text>
<rect x="405.05" y="162.05" width="18.9" height="8.50" fill="url(#chk2)" stroke="#000" stroke-width="2.1"/>
<text x="427.80" y="171.40" font-family='"Liberation Sans", sans-serif' font-size="15.3" letter-spacing="0.12">T-cell derived</text>
</svg>
</body></html>
